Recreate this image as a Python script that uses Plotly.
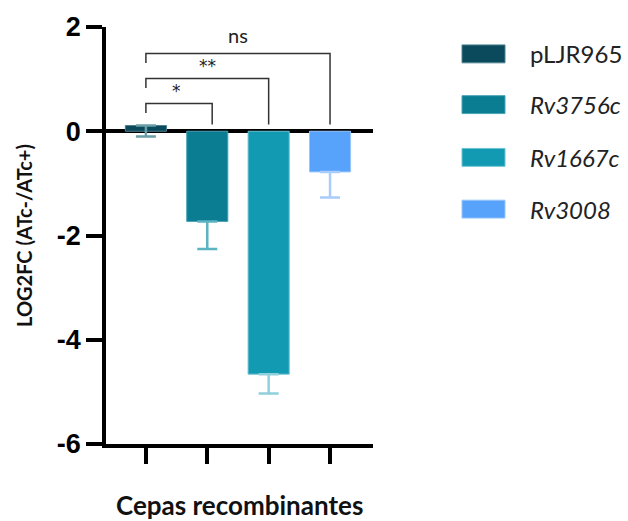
import plotly.graph_objects as go

# Strains and their log2 fold change (ATc-/ATc+)
strains = ["pLJR965", "Rv3756c", "Rv1667c", "Rv3008"]
log2fc = [0.11, -1.73, -4.66, -0.78]
err_minus = [0.21, 0.53, 0.37, 0.49]
bar_colors = ["#0b4a5c", "#0a7d93", "#139ab3", "#57a2fb"]
err_colors = ["#6a9fa8", "#5cb3c2", "#8fd0dc", "#a9ccfb"]
edge_colors = ["#4f8290", "#4aa3b5", "#6cc3d3", "#99c6fd"]
legend_labels = ["pLJR965", "<i>Rv3756c</i>", "<i>Rv1667c</i>", "<i>Rv3008</i>"]

# Significance comparisons against the control strain
sig_pairs = [(0, 1.08), (0, 2), (0, 3)]
sig_labels = ["*", "**", "ns"]
sig_heights = [0.53, 1.01, 1.49]

y_ticks = [-6, -4, -2, 0, 2]
y_tick_text = ["-6", "-4", "-2", "0", "2"]

fig = go.Figure()
for i, name in enumerate(strains):
    fig.add_trace(go.Bar(
        x=[i], y=[log2fc[i]], name=name, width=0.67,
        marker=dict(color=bar_colors[i], line=dict(color=edge_colors[i], width=1)),
        error_y=dict(type="data", symmetric=False, array=[0], arrayminus=[err_minus[i]],
                     color=err_colors[i], thickness=2.5, width=10),
        showlegend=False,
    ))

shapes = []
annotations = []
leg_len = 0.18
for (a, b), lab, h in zip(sig_pairs, sig_labels, sig_heights):
    path = (f"M {a},{h - leg_len} L {a},{h} L {b},{h} L {b},0.13")
    shapes.append(dict(type="path", path=path, xref="x", yref="y",
                       line=dict(color="#333333", width=1.5)))
    if lab == "ns":
        font = dict(family="Lato", size=20, color="#222222")
        y_text = h + 0.08
    else:
        font = dict(family="DejaVu Sans", size=17, color="#222222")
        y_text = h + 0.02
    annotations.append(dict(x=(a + round(b)) / 2, y=y_text, xref="x", yref="y",
                            text=lab, showarrow=False, yanchor="bottom", font=font))

# Legend drawn as swatches with labels at the right of the plot
plot_left, plot_right, plot_top, plot_bottom = 106, 373, 25, 444
pw, ph = plot_right - plot_left, plot_bottom - plot_top
row_y = [52, 103, 156, 208]
for i, lab in enumerate(legend_labels):
    yc = row_y[i]
    shapes.append(dict(type="rect", xref="paper", yref="paper",
                       x0=(462 - plot_left) / pw, x1=(505 - plot_left) / pw,
                       y0=(plot_bottom - yc - 9) / ph, y1=(plot_bottom - yc + 9) / ph,
                       fillcolor=bar_colors[i], line=dict(color=edge_colors[i], width=1)))
    annotations.append(dict(x=(528 - plot_left) / pw, y=(plot_bottom - yc) / ph,
                            xref="paper", yref="paper", text=lab, showarrow=False,
                            xanchor="left", yanchor="middle",
                            font=dict(family="Lato", size=24, color="#222222")))

annotations.append(dict(x=(239 - plot_left) / pw, y=(plot_bottom - 505) / ph,
                        xref="paper", yref="paper", text="<b>Cepas recombinantes</b>",
                        showarrow=False, yanchor="middle",
                        font=dict(family="Lato", size=26, color="#111111")))
annotations.append(dict(x=(24 - plot_left) / pw, y=(plot_bottom - 235) / ph,
                        xref="paper", yref="paper", text="<b>LOG2FC (ATc-/ATc+)</b>",
                        showarrow=False, textangle=-90, xanchor="center", yanchor="middle",
                        font=dict(family="Lato", size=20, color="#111111")))

fig.update_layout(
    width=628, height=521,
    margin=dict(l=plot_left, r=628 - plot_right, t=plot_top, b=521 - plot_bottom),
    paper_bgcolor="white", plot_bgcolor="white",
    barmode="overlay", shapes=shapes, annotations=annotations,
    xaxis=dict(range=[-0.65, 3.7], tickvals=list(range(len(strains))), ticktext=[""] * 4,
               showticklabels=False, ticks="outside", ticklen=16, tickwidth=3.5,
               tickcolor="black", showline=True, linewidth=3.5, linecolor="black",
               showgrid=False, zeroline=False, fixedrange=True),
    yaxis=dict(range=[-6, 2], tickvals=y_ticks, ticktext=y_tick_text, ticks="outside",
               ticklen=16, tickwidth=3.5, tickcolor="black", showline=True, linewidth=3.5,
               linecolor="black", showgrid=False, zeroline=True, zerolinewidth=3.5,
               zerolinecolor="black", layer="above traces",
               tickfont=dict(family="Liberation Sans", size=27, color="black", weight="bold"),
               ticklabelstandoff=0),
)

fig.write_html("out.html")
